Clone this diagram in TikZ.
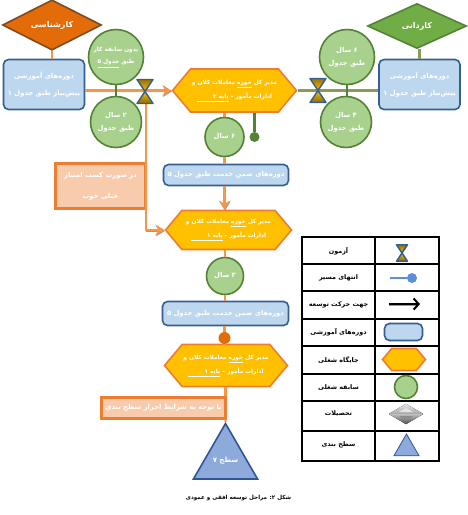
\documentclass[tikz,border=0pt]{standalone}
\usepackage{fontspec}
\usetikzlibrary{arrows.meta,shapes.geometric,shapes.symbols}
\newfontfamily\farsi[Script=Arabic]{DejaVu Sans}
\TeXXeTstate=1
\definecolor{paleblue}{HTML}{BDD7EE}
\definecolor{navyedge}{HTML}{355F91}
\definecolor{jobgold}{HTML}{FFC000}
\definecolor{jobedge}{HTML}{ED7D31}
\definecolor{pathorange}{HTML}{F79646}
\definecolor{deeporange}{HTML}{E36C09}
\definecolor{brownedge}{HTML}{7F4A1F}
\definecolor{leafgreen}{HTML}{70AD47}
\definecolor{palegreen}{HTML}{A9D18E}
\definecolor{darkgreen}{HTML}{548235}
\definecolor{olivepath}{HTML}{8A9A5B}
\definecolor{peach}{HTML}{F8CBAD}
\definecolor{levelblue}{HTML}{8EAADB}
\definecolor{leveledge}{HTML}{2F5597}
\definecolor{dotblue}{HTML}{5B8FD9}
\newcommand{\fa}[1]{{\farsi\bfseries\beginR #1\endR}}
\newcommand{\ful}[1]{\underline{\beginR #1\endR}}
\newcommand{\hourglass}[4]{%
  \node[coordinate] (#1) at (#2,#3) {};
  \begin{scope}[shift={(#2,#3)}, scale=#4]
    \fill[top color=jobgold!60!black, bottom color=jobgold] (-8,-12) -- (8,-12) -- (0,0) -- cycle;
    \fill[top color=jobgold, bottom color=black!45!jobgold] (-8,12) -- (8,12) -- (0,0) -- cycle;
    \draw[navyedge, line width=1.4pt, line join=round] (-8,-12) -- (8,-12) -- (-8,12) -- (8,12) -- cycle;
  \end{scope}
}
\tikzset{
  trainbox/.style={draw=navyedge, fill=paleblue, line width=1.6pt, rounded corners=5pt, inner sep=0pt, text=white, align=center, font=\fontsize{6.8}{17}\selectfont},
  jobhex/.style={shape=signal, signal to=east and west, signal pointer angle=100, draw=jobedge, fill=jobgold, line width=1.6pt, inner sep=0pt, text=white, align=center, font=\fontsize{5.8}{14}\selectfont},
  yearcircle/.style={circle, draw=darkgreen, fill=palegreen, line width=1.6pt, inner sep=0pt, text=white, align=center, font=\fontsize{6.8}{13}\selectfont},
  degree/.style={diamond, inner sep=0pt, line width=1.6pt, text=white, font=\fontsize{8}{10}\selectfont},
  notebox/.style={draw=jobedge, fill=peach, line width=2.2pt, inner sep=0pt, text=white, align=center, font=\fontsize{6.8}{21}\selectfont},
  keylabel/.style={font=\fontsize{6.4}{8}\selectfont},
  orangepath/.style={draw=pathorange, line width=2.2pt},
  greenpath/.style={draw=darkgreen, line width=2.2pt},
  olivelink/.style={draw=olivepath, line width=2.2pt},
  bigarrow/.style={-{Stealth[length=9pt,width=11pt]}, line width=2.2pt, preaction={draw=black!40, transform canvas={shift={(0.5pt,-0.9pt)}}}},
}
\begin{document}
\begin{tikzpicture}[x=1pt, y=-1pt]
  \useasboundingbox (0,0) rectangle (467,515);

  % ---------- Left column: entry from the bachelor degree ----------
  \node[degree, draw=brownedge, fill=deeporange, minimum width=99pt, minimum height=45pt] (degreeL) at (52,25) {\fa{کارشناسی}};
  \node[trainbox, minimum width=81pt, minimum height=50pt] (trainL) at (44,84.5)
    {\fa{دوره‌های آموزشی}\\ \fa{پیش‌نیاز طبق جدول ۱}};
  \node[yearcircle, minimum size=55pt, font=\fontsize{5.8}{13}\selectfont] (circleLa) at (116,57)
    {\fa{بدون سابقه کار}\\ \fa{طبق \ful{جدول ۵}}};
  \node[yearcircle, minimum size=51pt] (circleLb) at (116,122)
    {\fa{۲ سال}\\ \fa{طبق جدول}};

  % ---------- Right column: entry from the associate degree ----------
  \node[degree, draw=darkgreen, fill=leafgreen, minimum width=99pt, minimum height=45pt] (degreeR) at (417,26) {\fa{کاردانی}};
  \node[trainbox, minimum width=81pt, minimum height=50pt] (trainR) at (419.5,84.5)
    {\fa{دوره‌های آموزشی}\\ \fa{پیش‌نیاز طبق جدول ۱}};
  \node[yearcircle, minimum size=55pt] (circleRa) at (347,57)
    {\fa{۶ سال}\\ \fa{طبق جدول}};
  \node[yearcircle, minimum size=51pt] (circleRb) at (346,122)
    {\fa{۴ سال}\\ \fa{طبق جدول}};

  % ---------- Middle column ----------
  \node[jobhex, minimum width=124pt, minimum height=43pt] (hexA) at (234.5,90.5)
    {\fa{مدیر کل \ful{حوزه} معاملات کلان و}\\ \fa{ادارات مأمور – \ful{پایه ۲ \hspace{14pt}}}};
  \node[yearcircle, minimum size=39pt] (circleMa) at (224.5,137) {\fa{۶ سال}};
  \node[trainbox, minimum width=125pt, minimum height=21pt] (trainMa) at (226,175)
    {\fa{دوره‌های ضمن خدمت طبق جدول ۵}};
  \node[notebox, minimum width=90pt, minimum height=45pt] (noteA) at (100.5,186)
    {\fa{در صورت کسب امتیاز}\\ \fa{خیلی خوب}};
  \node[jobhex, minimum width=126pt, minimum height=39pt] (hexB) at (228.5,230)
    {\fa{مدیر کل \ful{حوزه} معاملات کلان و}\\ \fa{ادارات مأمور – \ful{پایه ۱ \hspace{14pt}}}};
  \node[yearcircle, minimum size=37pt] (circleMb) at (225,276) {\fa{۳ سال}};
  \node[trainbox, minimum width=126pt, minimum height=24pt] (trainMb) at (225.5,313.5)
    {\fa{دوره‌های ضمن خدمت طبق جدول ۵}};
  \node[circle, fill=deeporange, minimum size=12pt, inner sep=0pt] (dotM) at (224.5,338) {};
  \node[jobhex, minimum width=123pt, minimum height=42pt] (hexC) at (226,365.5)
    {\fa{مدیر کل \ful{حوزه} معاملات کلان و}\\ \fa{ادارات مأمور – \ful{پایه ۱ \hspace{14pt}}}};
  \node[notebox, minimum width=124pt, minimum height=21pt] (noteB) at (163.5,408)
    {\fa{با توجه به شرایط احراز سطح بندی}};
  \node[regular polygon, regular polygon sides=3, minimum size=74pt, draw=leveledge, fill=levelblue, line width=1.6pt, inner sep=0pt, text=white, font=\fontsize{7}{9}\selectfont] (levelTop) at (225.5,460.5) {\fa{سطح ۷}};
  \node[circle, fill=darkgreen, minimum size=10pt, inner sep=0pt] (dotG) at (254.5,137) {};

  % ---------- Connectors ----------
  \draw[orangepath] (degreeL) -- (degreeL |- trainL.north);
  \draw[olivelink] (degreeR.south -| trainR) -- (trainR);
  \draw[orangepath, bigarrow] (trainL.east |- hexA.west) -- (hexA.west);
  \draw[olivelink] (hexA.east) -- (trainR.west |- hexA.east);
  \draw[greenpath] (circleLa) -- (circleLb);
  \draw[greenpath] (circleRa) -- (circleRb.north -| circleRa);
  \draw[greenpath] (hexA.south -| dotG) -- (dotG);
  \draw[orangepath] (hexA.south -| circleMa) -- (circleMa);
  \draw[orangepath] (circleMa) -- (trainMa.north -| circleMa);
  \draw[orangepath, bigarrow] (trainMa.south -| circleMa) -- (hexB.north -| circleMa);
  \draw[orangepath] (hexB.south -| circleMb) -- (circleMb);
  \draw[orangepath] (circleMb) -- (trainMb.north -| circleMb);
  \draw[orangepath] (trainMb.south -| dotM) -- (dotM);
  \draw[orangepath] (dotM) -- (hexC.north -| dotM);
  \draw[orangepath] (hexC.south -| levelTop) -- (noteB.north -| levelTop);
  \draw[orangepath] (noteB.south -| levelTop) -- (levelTop.north);
  \coordinate (gateFoot) at (146,100);
  \draw[orangepath, bigarrow] (gateFoot) |- (hexB.west);

  \hourglass{gateL}{145}{91.5}{1}
  \hourglass{gateR}{318}{90.5}{1}

  % ---------- Legend ----------
  \draw[line width=1.8pt] (302,237) rectangle (439,461);
  \draw[line width=1.1pt] (375,237) -- (375,461);
  \draw[line width=1.1pt] (302,264) -- (439,264);
  \draw[line width=1.1pt] (302,291) -- (439,291);
  \draw[line width=1.1pt] (302,319) -- (439,319);
  \draw[line width=1.1pt] (302,346) -- (439,346);
  \draw[line width=1.1pt] (302,374) -- (439,374);
  \draw[line width=1.1pt] (302,401) -- (439,401);
  \draw[line width=1.1pt] (302,431) -- (439,431);

  \node[keylabel] (keyGate) at (338.5,251) {\fa{آزمون}};
  \node[keylabel] (keyEnd) at (338.5,278) {\fa{انتهای مسیر}};
  \node[keylabel] (keyDir) at (338.5,305) {\fa{جهت حرکت توسعه}};
  \node[keylabel] (keyTrain) at (338.5,332) {\fa{دوره‌های آموزشی}};
  \node[keylabel] (keyJob) at (338.5,360) {\fa{جایگاه شغلی}};
  \node[keylabel] (keyYears) at (338.5,388) {\fa{سابقه شغلی}};
  \node[keylabel] (keyDegree) at (338.5,414) {\fa{تحصیلات}};
  \node[keylabel] (keyLevel) at (338.5,445) {\fa{سطح بندی}};

  \hourglass{iconGate}{402}{253}{0.68}
  \coordinate (iconEndStart) at (390,278);
  \node[circle, fill=dotblue, minimum size=10pt, inner sep=0pt] (iconEnd) at (412,278) {};
  \draw[dotblue, line width=1.4pt] (iconEndStart) -- (iconEnd);
  \coordinate (iconDirStart) at (389,304);
  \coordinate (iconDirEnd) at (420,304);
  \draw[black, line width=2pt, preaction={draw=black!40, transform canvas={shift={(0.4pt,-0.8pt)}}}, -{Straight Barb[length=5pt,width=11pt]}] (iconDirStart) -- (iconDirEnd);
  \node[trainbox, minimum width=38pt, minimum height=17pt] (iconTrain) at (403.5,332) {};
  \node[jobhex, minimum width=43pt, minimum height=22pt] (iconJob) at (404,359.5) {};
  \node[yearcircle, minimum size=23pt] (iconYears) at (406,387) {};
  \node[diamond, minimum width=34pt, minimum height=20pt, inner sep=0pt, fill=black!45] (iconDegree) at (406,414) {};
  \fill[top color=black!10, bottom color=black!35] (iconDegree.west) -- (iconDegree.north) -- (iconDegree.east) -- cycle;
  \fill[top color=black!25, bottom color=black!70] (iconDegree.west) -- (iconDegree.south) -- (iconDegree.east) -- cycle;
  \fill[white!90!black] (399,412) -- (413,412) -- (406,408) -- cycle;
  \fill[black!45] (399,416) -- (413,416) -- (406,420) -- cycle;
  \node[regular polygon, regular polygon sides=3, minimum size=29pt, draw=leveledge, fill=levelblue, line width=0.8pt, inner sep=0pt] (iconLevel) at (406.5,448.5) {};

  % ---------- Caption ----------
  \node[font=\fontsize{5.6}{8}\selectfont] (caption) at (238.5,498) {\fa{شکل ۲: مراحل توسعه افقی و عمودی}};
\end{tikzpicture}
\end{document}
